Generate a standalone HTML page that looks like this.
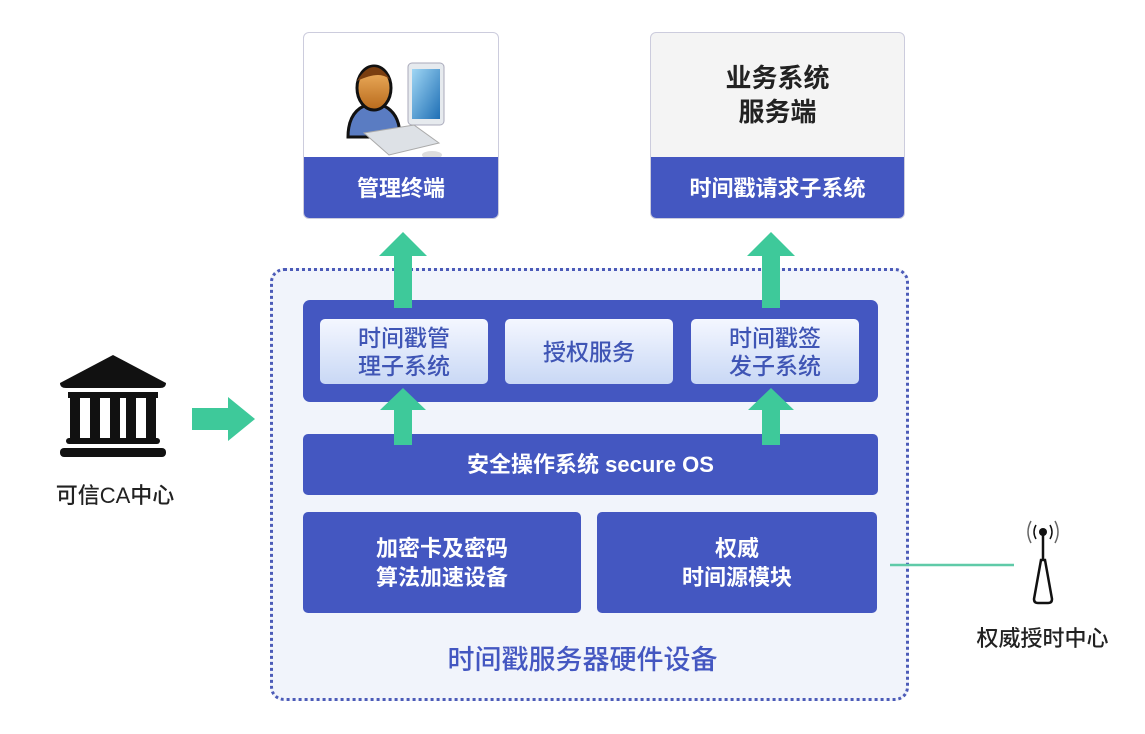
<!DOCTYPE html>
<html><head><meta charset="utf-8"><style>
body{margin:0;width:1145px;height:734px;background:#fff;position:relative;overflow:hidden;font-family:"Liberation Sans","Noto Sans CJK SC",sans-serif}
.a{position:absolute;box-sizing:border-box}
.blue{background:#4457c1;color:#fff;display:flex;align-items:center;justify-content:center;text-align:center;font-size:22px;line-height:29px;border-radius:5px;font-weight:bold}
.sub{background:linear-gradient(#f4f7ff,#c9d8f5);color:#3f55b5;display:flex;align-items:center;justify-content:center;text-align:center;font-size:23px;line-height:28px;border-radius:5px;font-weight:500}
</style></head><body>
<div class="a" style="left:270px;top:268px;width:639px;height:433px;background:#f1f4fb;border:3px dotted #4c5bb8;border-radius:14px"></div>

<div class="a" style="left:303px;top:32px;width:196px;height:187px;border:1px solid #ccd;border-radius:6px;background:#fff;overflow:hidden">
<svg width="196" height="125" style="position:absolute;left:0;top:0">
<defs><linearGradient id="f" x1="0" y1="0" x2="0" y2="1"><stop offset="0" stop-color="#f2b463"/><stop offset="1" stop-color="#b86a1c"/></linearGradient>
<linearGradient id="s" x1="0" y1="0" x2="1" y2="1"><stop offset="0" stop-color="#9fd6f4"/><stop offset="1" stop-color="#1f6fb5"/></linearGradient></defs>
<path d="M44 104 Q44 74 70 70 Q96 74 96 104 Z" fill="#5a7cc2" stroke="#111" stroke-width="3"/>
<ellipse cx="70" cy="55" rx="17" ry="22" fill="url(#f)" stroke="#111" stroke-width="3"/>
<path d="M53 48 Q70 20 87 48 Q78 36 53 48Z" fill="#7a3e10"/>
<rect x="104" y="30" width="36" height="62" rx="4" fill="#e6eaee" stroke="#aab" />
<rect x="108" y="36" width="28" height="50" fill="url(#s)"/>
<path d="M60 100 L110 92 L135 110 L85 122 Z" fill="#dde1e6" stroke="#aaa"/>
<ellipse cx="128" cy="122" rx="10" ry="4" fill="#ddd"/>
</svg>
<div class="a blue" style="left:-1px;top:124px;width:196px;height:62px;border-radius:0 0 6px 6px">管理终端</div>
</div>

<div class="a" style="left:650px;top:32px;width:255px;height:187px;border:1px solid #ccd;border-radius:6px;background:#f4f4f4;overflow:hidden">
<div class="a" style="left:0;top:28px;width:253px;text-align:center;font-size:26px;line-height:34px;font-weight:bold;color:#222">业务系统<br>服务端</div>
<div class="a blue" style="left:-1px;top:124px;width:255px;height:62px;border-radius:0 0 6px 6px">时间戳请求子系统</div>
</div>

<div class="a blue" style="left:303px;top:300px;width:575px;height:102px;border-radius:7px"></div>
<div class="a sub" style="left:320px;top:319px;width:168px;height:65px">时间戳管<br>理子系统</div>
<div class="a sub" style="left:505px;top:319px;width:168px;height:65px">授权服务</div>
<div class="a sub" style="left:691px;top:319px;width:168px;height:65px">时间戳签<br>发子系统</div>
<div class="a blue" style="left:303px;top:434px;width:575px;height:61px">安全操作系统 secure OS</div>
<div class="a blue" style="left:303px;top:512px;width:278px;height:101px">加密卡及密码<br>算法加速设备</div>
<div class="a blue" style="left:597px;top:512px;width:280px;height:101px">权威<br>时间源模块</div>
<div class="a" style="left:270px;top:638px;width:625px;text-align:center;font-size:27px;color:#4457c1;font-weight:500">时间戳服务器硬件设备</div>

<svg class="a" style="left:0;top:0" width="1145" height="734">
<g fill="#3ec99a">
<path d="M379 256 L403 232 L427 256 L412 256 L412 308 L394 308 L394 256Z"/>
<path d="M747 256 L771 232 L795 256 L780 256 L780 308 L762 308 L762 256Z"/>
<path d="M380 410 L403 388 L426 410 L412 410 L412 445 L394 445 L394 410Z"/>
<path d="M748 410 L771 388 L794 410 L780 410 L780 445 L762 445 L762 410Z"/>
<path d="M192 408 L228 408 L228 397 L255 419 L228 441 L228 430 L192 430Z"/>
</g>
<g fill="#111">
<path d="M60 383 L113 355 L166 383 Q166 388 160 388 L66 388 Q60 388 60 383Z"/>
<rect x="68" y="392" width="90" height="6"/>
<rect x="70" y="398" width="10" height="40"/><rect x="90" y="398" width="10" height="40"/>
<rect x="110" y="398" width="10" height="40"/><rect x="146" y="398" width="10" height="40"/>
<rect x="126" y="398" width="10" height="40"/>
<rect x="66" y="438" width="94" height="6" rx="3"/>
<rect x="60" y="448" width="106" height="9" rx="4"/>
</g>
<line x1="890" y1="565" x2="1014" y2="565" stroke="#5fcaa8" stroke-width="2.5"/>
<g fill="none" stroke="#111" stroke-width="2.5">
<path d="M1041 560 L1034 599 Q1034 603 1038 603 L1048 603 Q1052 603 1052 599 L1045 560 Z"/>
<line x1="1043" y1="534" x2="1043" y2="560"/>
<path d="M1036 525 Q1032 532 1036 539 M1050 525 Q1054 532 1050 539" stroke-width="1.5"/>
<path d="M1031 521 Q1025 532 1031 543 M1055 521 Q1061 532 1055 543" stroke-width="1.5" stroke="#666"/>
</g>
<circle cx="1043" cy="532" r="4" fill="#111"/>
</svg>
<div class="a" style="left:30px;top:478px;width:170px;text-align:center;font-size:22px;color:#222;font-weight:500">可信CA中心</div>
<div class="a" style="left:955px;top:621px;width:175px;text-align:center;font-size:22px;color:#222;font-weight:500">权威授时中心</div>
</body></html>
